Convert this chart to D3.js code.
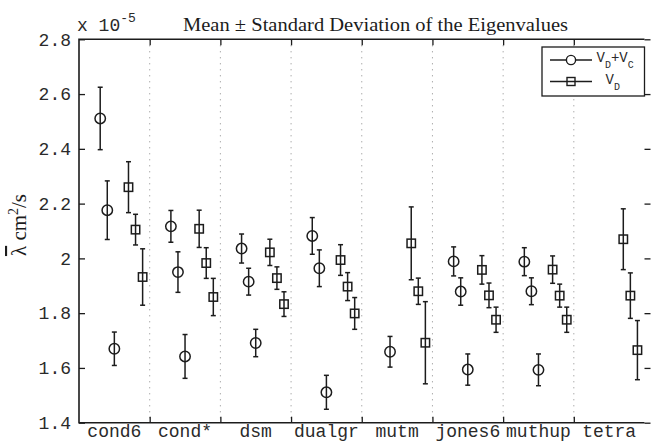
<!DOCTYPE html>
<html>
<head>
<meta charset="utf-8">
<script src="https://cdn.jsdelivr.net/npm/d3@7"></script>
<style>
  body { margin: 0; background: #fff; }
  .tick text { font-family: "Liberation Mono", monospace; font-size: 18px; fill: #2a2a2a; }
</style>
</head>
<body>
<div id="chart"></div>
<script>
// categories and read-off values (units of 1e-5 cm^2/s); null = not plotted
const categories = ["cond6", "cond*", "dsm", "dualgr", "mutm", "jones6", "muthup", "tetra"];

const vdvcMean = [
  [2.511, 2.176, 1.670],
  [2.117, 1.950, 1.642],
  [2.036, 1.915, 1.691],
  [2.082, 1.964, 1.511],
  [null, 1.659, null],
  [1.989, 1.879, 1.594],
  [1.988, 1.880, 1.593],
  [null, null, null]
];
const vdvcStd = [
  [0.114, 0.107, 0.061],
  [0.058, 0.074, 0.080],
  [0.053, 0.049, 0.050],
  [0.067, 0.067, 0.062],
  [null, 0.056, null],
  [0.053, 0.050, 0.057],
  [0.051, 0.049, 0.058],
  [null, null, null]
];
const vdMean = [
  [2.260, 2.105, 1.932],
  [2.108, 1.983, 1.859],
  [2.022, 1.928, 1.833],
  [1.994, 1.897, 1.799],
  [2.055, 1.880, 1.692],
  [1.958, 1.865, 1.776],
  [1.959, 1.864, 1.776],
  [2.070, 1.864, 1.665]
];
const vdStd = [
  [0.093, 0.056, 0.103],
  [0.068, 0.056, 0.068],
  [0.048, 0.041, 0.045],
  [0.056, 0.051, 0.058],
  [0.133, 0.048, 0.150],
  [0.052, 0.045, 0.046],
  [0.050, 0.042, 0.046],
  [0.111, 0.083, 0.108]
];

const yTicks = [1.4, 1.6, 1.8, 2, 2.2, 2.4, 2.6, 2.8];
const yTickLabels = ["1.4", "1.6", "1.8", "2", "2.2", "2.4", "2.6", "2.8"];

const width = 651, height = 444;
const mLeft = 79, mRight = 644.5, mTop = 39.3, mBottom = 422.7;
const ink = "#1c1c1c";

const svg = d3.select("#chart").append("svg")
  .attr("width", width).attr("height", height);

const x = d3.scaleLinear().domain([0, categories.length]).range([mLeft, mRight]);
const y = d3.scaleLinear().domain([1.4, 2.8]).range([mBottom, mTop]);

const circleOffsets = [0.3, 0.4, 0.5];
const squareOffsets = [0.7, 0.8, 0.9];

// dotted separators between groups
const seps = d3.range(1, categories.length);
svg.append("g").selectAll("line")
  .data(seps)
  .enter().append("line")
  .attr("x1", d => x(d)).attr("x2", d => x(d))
  .attr("y1", mTop).attr("y2", mBottom)
  .attr("stroke", "#8a8a8a")
  .attr("stroke-width", 1)
  .attr("stroke-dasharray", "1,5");

// axes
const yAxis = d3.axisLeft(y).tickValues(yTicks).tickSize(-6).tickPadding(8)
  .tickFormat((d, i) => yTickLabels[i]);
const gy = svg.append("g").attr("transform", `translate(${mLeft},0)`).call(yAxis);
gy.select(".domain").remove();
gy.selectAll(".tick line").attr("stroke", ink).attr("stroke-width", 1.3);

const gyr = svg.append("g").attr("transform", `translate(${mRight},0)`)
  .call(d3.axisRight(y).tickValues(yTicks).tickSize(6).tickFormat(""));
gyr.select(".domain").remove();
gyr.selectAll(".tick line").attr("stroke", ink).attr("stroke-width", 1.3);

const gxb = svg.append("g").attr("transform", `translate(0,${mBottom})`)
  .call(d3.axisBottom(x).tickValues(seps).tickSize(-6).tickFormat(""));
gxb.select(".domain").remove();
gxb.selectAll(".tick line").attr("stroke", ink).attr("stroke-width", 1.3);

const gxt = svg.append("g").attr("transform", `translate(0,${mTop})`)
  .call(d3.axisTop(x).tickValues(seps).tickSize(-6).tickFormat(""));
gxt.select(".domain").remove();
gxt.selectAll(".tick line").attr("stroke", ink).attr("stroke-width", 1.3);

// box: left, bottom, top
svg.append("path")
  .attr("d", `M${mRight},${mTop}H${mLeft}V${mBottom}H${mRight}`)
  .attr("fill", "none").attr("stroke", ink).attr("stroke-width", 1.6);

// group labels
svg.append("g").selectAll("text")
  .data(categories)
  .enter().append("text")
  .attr("x", (d, i) => x(i + 0.5))
  .attr("y", 437)
  .attr("text-anchor", "middle")
  .style("font-family", "Liberation Mono, monospace")
  .style("font-size", "18px")
  .attr("fill", "#2a2a2a")
  .text(d => d);

// flatten series into points
function buildPoints(means, stds, offsets, kind) {
  const pts = [];
  means.forEach((row, i) => {
    row.forEach((m, j) => {
      if (m == null) return;
      pts.push({ cx: i + offsets[j], mean: m, sd: stds[i][j], kind: kind });
    });
  });
  return pts;
}
const points = buildPoints(vdvcMean, vdvcStd, circleOffsets, "circle")
  .concat(buildPoints(vdMean, vdStd, squareOffsets, "square"));

const cap = 2.5;
const bars = svg.append("g").selectAll("g")
  .data(points)
  .enter().append("g")
  .attr("stroke", ink).attr("stroke-width", 1.5).attr("fill", "none");

bars.append("line")
  .attr("x1", d => x(d.cx)).attr("x2", d => x(d.cx))
  .attr("y1", d => y(d.mean + d.sd)).attr("y2", d => y(d.mean - d.sd));
bars.append("line")
  .attr("x1", d => x(d.cx) - cap).attr("x2", d => x(d.cx) + cap)
  .attr("y1", d => y(d.mean + d.sd)).attr("y2", d => y(d.mean + d.sd));
bars.append("line")
  .attr("x1", d => x(d.cx) - cap).attr("x2", d => x(d.cx) + cap)
  .attr("y1", d => y(d.mean - d.sd)).attr("y2", d => y(d.mean - d.sd));

bars.filter(d => d.kind === "circle").append("circle")
  .attr("cx", d => x(d.cx)).attr("cy", d => y(d.mean)).attr("r", 5.2);
bars.filter(d => d.kind === "square").append("rect")
  .attr("x", d => x(d.cx) - 4.2).attr("y", d => y(d.mean) - 4.2)
  .attr("width", 8.4).attr("height", 8.4);

// exponent note
const expo = svg.append("text")
  .attr("x", 77).attr("y", 31)
  .style("font-family", "Liberation Mono, monospace")
  .style("font-size", "18px")
  .attr("fill", "#2a2a2a");
expo.append("tspan").text("x 10");
expo.append("tspan").attr("dy", -9).style("font-size", "13px").text("-5");

// title
svg.append("text")
  .attr("x", 183).attr("y", 31)
  .attr("textLength", 385).attr("lengthAdjust", "spacingAndGlyphs")
  .style("font-family", "Liberation Serif, serif")
  .style("font-size", "18px")
  .attr("fill", ink)
  .text("Mean \u00b1 Standard Deviation of the Eigenvalues");

// y label
const ylab = svg.append("text")
  .attr("transform", "translate(26,225) rotate(-90)")
  .attr("text-anchor", "middle")
  .style("font-family", "Liberation Serif, serif")
  .style("font-size", "21px")
  .attr("fill", ink);
ylab.append("tspan").style("text-decoration", "overline").text("\u03bb");
ylab.append("tspan").text(" cm");
ylab.append("tspan").attr("dy", -8).style("font-size", "14px").text("2");
ylab.append("tspan").attr("dy", 8).text("/s");

// legend
const lg = svg.append("g");
lg.append("rect")
  .attr("x", 542).attr("y", 47).attr("width", 102.5).attr("height", 49)
  .attr("fill", "#fff").attr("stroke", ink).attr("stroke-width", 1.3);

const legendItems = [
  { kind: "circle", y: 60, main: ["V", "D", "+V", "C"] },
  { kind: "square", y: 81.5, main: ["V", "D"] }
];
legendItems.forEach(item => {
  const g = lg.append("g").attr("stroke", ink).attr("stroke-width", 1.4).attr("fill", "none");
  g.append("line").attr("x1", 550).attr("x2", 592).attr("y1", item.y).attr("y2", item.y);
  if (item.kind === "circle") {
    g.append("circle").attr("cx", 571).attr("cy", item.y).attr("r", 4.6).attr("fill", "#fff");
  } else {
    g.append("rect").attr("x", 567).attr("y", item.y - 4).attr("width", 8).attr("height", 8);
  }
  const t = lg.append("text")
    .attr("x", item.kind === "circle" ? 596.5 : 605.5).attr("y", item.y + 2)
    .style("font-family", "Liberation Mono, monospace")
    .style("font-size", "14px")
    .attr("fill", "#2a2a2a");
  item.main.forEach((s, k) => {
    const sub = k % 2 === 1;
    t.append("tspan")
      .attr("dy", k === 0 ? 0 : (sub ? 6 : -6))
      .style("font-size", sub ? "10px" : "14px")
      .text(s);
  });
});
</script>
</body>
</html>
